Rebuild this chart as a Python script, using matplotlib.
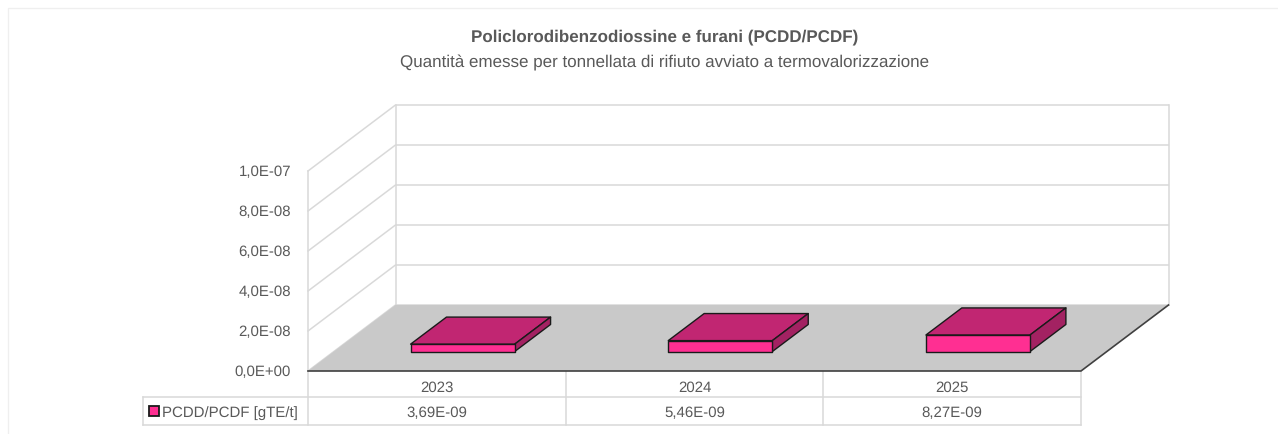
import matplotlib
matplotlib.use("Agg")
import matplotlib.pyplot as plt
from matplotlib.patches import Rectangle

plt.rcParams['font.family'] = ['Liberation Sans', 'DejaVu Sans']
plt.rcParams['text.hinting'] = 'no_hinting'
plt.rcParams['text.hinting_factor'] = 1

years = ['2023', '2024', '2025']
series_name = 'PCDD/PCDF [gTE/t]'
values = [3.69e-9, 5.46e-9, 8.27e-9]
value_labels = ['3,69E-09', '5,46E-09', '8,27E-09']
y_ticks = [0.0, 2e-8, 4e-8, 6e-8, 8e-8, 1e-7]
y_labels = ['0,0E+00', '2,0E-08', '4,0E-08', '6,0E-08', '8,0E-08', '1,0E-07']
title = 'Policlorodibenzodiossine e furani (PCDD/PCDF)'
subtitle = 'Quantità emesse per tonnellata di rifiuto avviato a termovalorizzazione'

W, H = 1278, 435
L, R, B, T = 308, 1081, 372, 172
DX, DY = 87.5, 66
FS = 11.15
FS_T = 12.5

fig = plt.figure(figsize=(W / 100, H / 100), dpi=100, facecolor='white')
bg = fig.add_axes([0, 0, 1, 1])
bg.set_xlim(0, W); bg.set_ylim(H, 0); bg.axis('off')
bg.plot([7.5, 7.5, W], [H + 1, 8.5, 8.5], color='#efefef', lw=0.9)

ax = fig.add_axes([L / W, 1 - B / H, (R - L) / W, (B - T) / H])
ax.set_xlim(0, 3); ax.set_ylim(0, 1e-7); ax.axis('off')
ux = 3 / (R - L)      # category units per pixel
uy = 1e-7 / (B - T)   # value units per pixel
ddx, ddy = DX * ux, DY * uy

def P(x, y, d):
    return x + d * ddx, y + d * ddy

GRID = '#d9d9d9'; TXT = '#595959'; EDGE = '#1a1a1a'
kw = dict(clip_on=False)
# floor
xs, ys = zip(P(0, 0, 0), P(3, 0, 0), P(3, 0, 1), P(0, 0, 1))
ax.fill(xs, ys, color='#c9c9c9', lw=0, zorder=2, **kw)
# walls and gridlines
for t in y_ticks:
    xs, ys = zip(P(0, t, 0), P(0, t, 1), P(3, t, 1))
    ax.plot(xs, ys, color=GRID, lw=1.1, zorder=1, **kw)
for x in (0, 3):
    xs, ys = zip(P(x, 0, 1), P(x, 1e-7, 1))
    ax.plot(xs, ys, color=GRID, lw=1.1, zorder=1, **kw)
xs, ys = zip(P(0, 0, 0), P(0, 1e-7, 0))
ax.plot(xs, ys, color=GRID, lw=1.1, zorder=1, **kw)
# floor edges
xs, ys = zip(P(0, 0, 0), P(3, 0, 0), P(3, 0, 1))
ax.plot(xs, ys, color='#404040', lw=1.2, zorder=3, **kw)

# bars
bw, d0, d1 = 0.404, 0.295, 0.705
for i, v in enumerate(values):
    x0, x1 = i + 0.5 - bw / 2, i + 0.5 + bw / 2
    for corners, col in (
        ([P(x0, v, d0), P(x1, v, d0), P(x1, v, d1), P(x0, v, d1)], '#c12672'),
        ([P(x1, 0, d0), P(x1, 0, d1), P(x1, v, d1), P(x1, v, d0)], '#a32262'),
        ([P(x0, 0, d0), P(x1, 0, d0), P(x1, v, d0), P(x0, v, d0)], '#ff2f92'),
    ):
        xs, ys = zip(*corners)
        ax.fill(xs, ys, facecolor=col, edgecolor=EDGE, lw=1.0, joinstyle='round', zorder=4, **kw)

# y tick labels
for t, s in zip(y_ticks, y_labels):
    ax.annotate(s, (0, t), xytext=(-17, 0), textcoords='offset pixels', ha='right', va='center',
                fontsize=FS, color=TXT, annotation_clip=False)

# data table
yv = [0, -26 * uy, -54 * uy]
for x in range(4):
    ax.plot([x, x], [yv[0], yv[2]], color=GRID, lw=1.1, zorder=1, **kw)
leg_x = -165 * ux
ax.plot([leg_x, 3], [yv[1], yv[1]], color=GRID, lw=1.1, **kw)
ax.plot([leg_x, 3], [yv[2], yv[2]], color=GRID, lw=1.1, **kw)
ax.plot([leg_x, leg_x], [yv[1], yv[2]], color=GRID, lw=1.1, **kw)
for i in range(3):
    ax.text(i + 0.5, -15.5 * uy, years[i], ha='center', va='center', fontsize=FS, color=TXT)
    ax.text(i + 0.5, -41 * uy, value_labels[i], ha='center', va='center', fontsize=FS, color=TXT)
ax.add_patch(Rectangle((leg_x + 5.5 * ux, -45 * uy), 10 * ux, 10 * uy, facecolor='#ff2f92',
                       edgecolor=EDGE, lw=1.3, clip_on=False))
ax.text(leg_x + 19 * ux, -41 * uy, series_name, ha='left', va='center', fontsize=FS, color=TXT)

fig.text(665 / W, 1 - 37.5 / H, title, ha='center', va='center', fontsize=FS_T, fontweight='bold', color=TXT)
fig.text(665 / W, 1 - 63 / H, subtitle, ha='center', va='center', fontsize=FS_T, color=TXT)

fig.savefig('out.png', dpi=100, facecolor='white')
